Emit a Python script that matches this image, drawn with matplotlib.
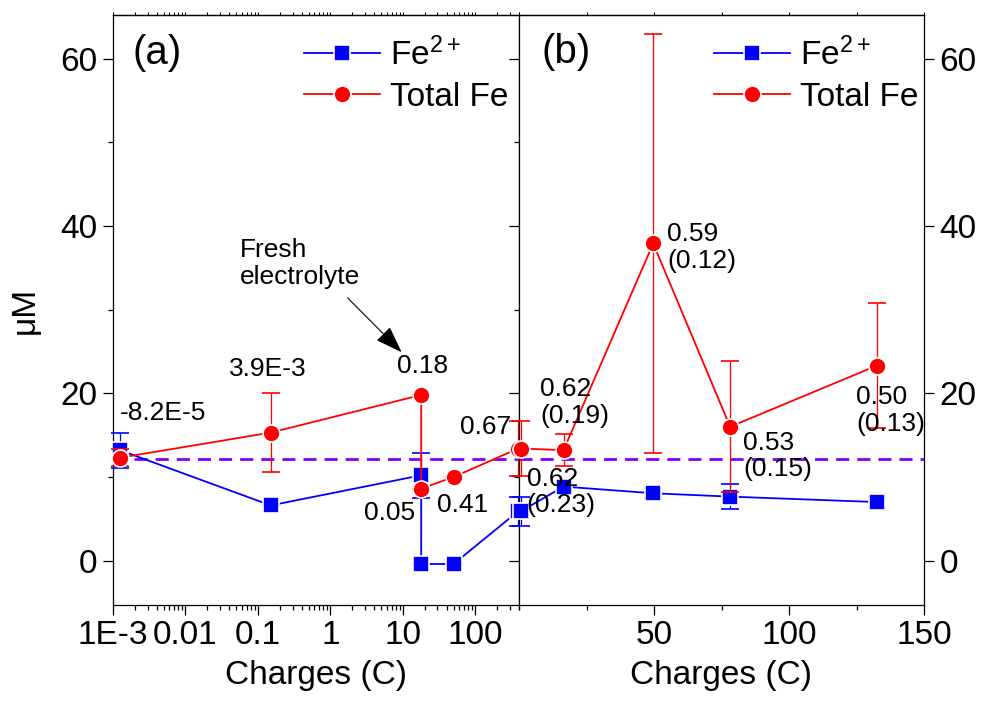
import matplotlib
matplotlib.use("Agg")
import matplotlib.pyplot as plt
from matplotlib.ticker import FixedLocator, FixedFormatter, MultipleLocator, LogLocator, NullFormatter

plt.rcParams['font.family'] = ['Liberation Sans', 'DejaVu Sans']
plt.rcParams['mathtext.fontset'] = 'custom'
plt.rcParams['mathtext.rm'] = 'Liberation Sans'
plt.rcParams['mathtext.it'] = 'Liberation Sans:italic'
plt.rcParams['mathtext.bf'] = 'Liberation Sans:bold'

# ---------------- data ----------------
left_x = [1.25e-3, 0.15, 17.9, 17.9, 50, 390]
left_fe2 = [13.2, 6.6, 10.2, -0.4, -0.4, 5.9]
left_fe2_err = [2.1, 0, 2.7, 0, 0, 1.75]
left_tot = [12.3, 15.3, 19.8, 8.6, 10.0, 13.4]
left_tot_err = [1.0, 4.7, 0, 0, 0, 3.3]

right_x = [0.7, 16.5, 49.7, 78.2, 132.5]
right_fe2 = [5.9, 8.85, 8.05, 7.65, 7.0]
right_fe2_err = [1.75, 0.6, 0.6, 1.5, 0.6]
right_tot = [13.4, 13.2, 37.9, 16.0, 23.3]
right_tot_err = [3.3, 1.9, 25.0, 7.8, 7.5]

fresh_level = 12.1

left_xticks = [1e-3, 1e-2, 1e-1, 1, 10, 100]
left_xticklabels = ['1E-3', '0.01', '0.1', '1', '10', '100']
right_xticks = [50, 100, 150]
yticks = [0, 20, 40, 60]

left_labels = ['-8.2E-5', '3.9E-3', '0.18', '0.05', '0.41', '0.67']
right_labels = ['0.62\n(0.23)', '0.62\n(0.19)', '0.59\n(0.12)', '0.53\n(0.15)', '0.50\n(0.13)']

series_names = ['Fe$^{2+}$', 'Total Fe']
xlabel = 'Charges (C)'
ylabel = 'μM'

# ---------------- figure ----------------
fig = plt.figure(figsize=(9.84, 7.02), dpi=100)
ax1 = fig.add_axes([113/984, 97/702, 406/984, 590/702])
ax2 = fig.add_axes([519/984, 97/702, 405/984, 590/702])

BLUE = '#0000ff'
RED = '#ff0000'
PURPLE = '#8000ff'
FS = 24
LFS = 19

def draw(ax, x, fe2, fe2e, tot, tote):
    ax.axhline(fresh_level, color=PURPLE, lw=2.0, ls=(0, (4.7, 2.9)), zorder=1)
    c1 = ax.errorbar(x, fe2, yerr=fe2e, color=BLUE, lw=1.3, marker='s', ms=11.2,
                     mfc=BLUE, mec='white', mew=1.2, elinewidth=0.9, capsize=6.5,
                     capthick=0.9, clip_on=False, zorder=3)
    c2 = ax.errorbar(x, tot, yerr=tote, color=RED, lw=1.3, marker='o', ms=12.2,
                     mfc=RED, mec='white', mew=1.2, elinewidth=0.9, capsize=6.5,
                     capthick=0.9, clip_on=False, zorder=4)
    return c1[0], c2[0]

h1 = draw(ax1, left_x, left_fe2, left_fe2_err, left_tot, left_tot_err)
h2 = draw(ax2, right_x, right_fe2, right_fe2_err, right_tot, right_tot_err)

for ax in (ax1, ax2):
    ax.set_ylim(-5.3, 65.2)
    ax.yaxis.set_major_locator(FixedLocator(yticks))
    ax.yaxis.set_minor_locator(MultipleLocator(10))
    ax.tick_params(which='major', direction='out', length=7, width=0.9,
                   labelsize=FS, pad=4)
    ax.tick_params(which='minor', direction='out', length=3.5, width=0.9)
    for s in ax.spines.values():
        s.set_linewidth(0.9)
    ax.set_xlabel(xlabel, fontsize=FS, labelpad=6)

ax1.set_xscale('log')
ax1.set_xlim(1e-3, 400)
ax1.xaxis.set_major_locator(FixedLocator(left_xticks))
ax1.xaxis.set_major_formatter(FixedFormatter(left_xticklabels))
ax1.xaxis.set_minor_locator(LogLocator(base=10, subs=range(2, 10), numticks=20))
ax1.xaxis.set_minor_formatter(NullFormatter())
ax1.tick_params(axis='y', left=True, right=False)
ax1.set_ylabel(ylabel, fontsize=FS, labelpad=14)

ax2.set_xlim(0, 150)
ax2.xaxis.set_major_locator(FixedLocator(right_xticks))
ax2.xaxis.set_minor_locator(MultipleLocator(25))
ax2.tick_params(axis='y', left=True, right=True, labelleft=False, labelright=True)

# small top ticks
for ax, log in ((ax1, True), (ax2, False)):
    sec = ax.secondary_xaxis('top')
    if log:
        sec.xaxis.set_major_locator(FixedLocator(left_xticks))
        sec.xaxis.set_minor_locator(LogLocator(base=10, subs=range(2, 10), numticks=20))
    else:
        sec.xaxis.set_major_locator(MultipleLocator(25))
    sec.xaxis.set_minor_formatter(NullFormatter())
    sec.tick_params(which='both', direction='out', length=2, width=0.7,
                    labeltop=False)
    sec.spines['top'].set_linewidth(0.9)

# panel letters
ax1.text(0.047, 0.936, '(a)', transform=ax1.transAxes, fontsize=29,
         ha='left', va='center')
ax2.text(0.056, 0.937, '(b)', transform=ax2.transAxes, fontsize=29,
         ha='left', va='center')

# legends
for ax, hs, x0 in ((ax1, h1, 0.470), (ax2, h2, 0.481)):
    ax.legend(handles=list(hs), labels=series_names, loc='upper left',
              bbox_to_anchor=(x0, 0.962), frameon=False,
              fontsize=FS, handlelength=2.3, handletextpad=0.28,
              labelspacing=0.3, borderpad=0, borderaxespad=0)

# value labels, left panel
left_pos = [(1.25e-3, 17.6, 'left'), (0.136, 22.9, 'center'), (18.6, 23.3, 'center'),
            (6.5, 5.7, 'center'), (66, 6.7, 'center'), (137, 16.0, 'center')]
for t, (x, y, ha) in zip(left_labels, left_pos):
    ax1.text(x, y, t, fontsize=LFS, ha=ha, va='center', zorder=6)

right_pos = [(2.8, 8.2), (7.9, 18.9), (55.0, 37.4), (83.0, 12.5), (124.8, 17.9)]
for t, (x, y) in zip(right_labels, right_pos):
    ax2.text(x, y, t, fontsize=LFS, ha='left', va='center', linespacing=1.15,
             zorder=6, clip_on=False)

# Fresh electrolyte annotation
ax1.text(0.056, 35.5, 'Fresh\nelectrolyte', fontsize=19, ha='left', va='center',
         linespacing=1.15)
ax1.annotate('', xy=(9.6, 24.9), xytext=(1.73, 31.4),
             arrowprops=dict(arrowstyle='-|>,head_length=1.7,head_width=0.6',
                             color='black', lw=0.8, shrinkA=0, shrinkB=0))

fig.savefig('out.png', dpi=100)
